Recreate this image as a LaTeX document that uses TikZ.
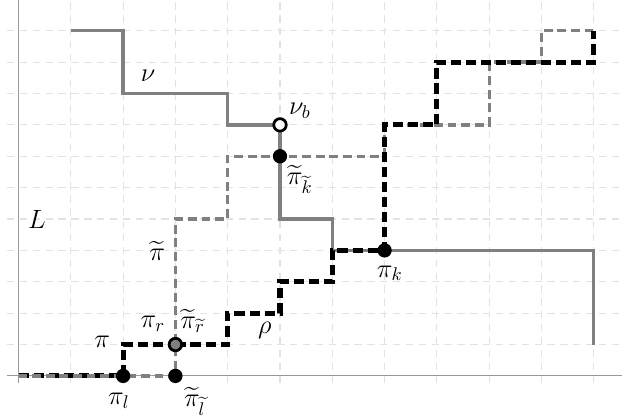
\documentclass[tikz,border=0pt]{standalone}
\usepackage{amsmath}
\begin{document}
\begin{tikzpicture}[x=1cm,y=0.6cm,
  gridline/.style={draw=black!11, dash pattern=on 4pt off 3pt, line width=0.6pt},
  axisline/.style={draw=black!40, line width=0.6pt},
  nupath/.style={draw=black!50, line width=1.8pt},
  pipath/.style={draw=black, line width=2.8pt, dash pattern=on 5.5pt off 2.7pt},
  tpipath/.style={draw=black!50, line width=1.8pt, dash pattern=on 4.8pt off 2.6pt},
  dot/.style={circle, fill=black, inner sep=0pt, minimum size=7.8pt},
  odot/.style={circle, draw=black, fill=white, line width=1.5pt, inner sep=0pt, minimum size=6.8pt},
  gdot/.style={circle, draw=black, fill=black!50, line width=1.5pt, inner sep=0pt, minimum size=6.8pt},
  lab/.style={font=\fontsize{14.5}{16}\selectfont, inner sep=0pt}]
\useasboundingbox (-0.354,-1.307) rectangle (11.54,11.98);
\draw[gridline, xstep=1cm, ystep=0.6cm] (-0.22,-0.22) grid (11.6,12);
\coordinate (xa) at (-0.22,0);
\coordinate (xb) at (11.6,0);
\coordinate (ya) at (0,-0.22);
\coordinate (yb) at (0,12);
\draw[axisline] (xa) -- (xb);
\draw[axisline] (ya) -- (yb);
% nu path
\coordinate (n0) at (1,11);
\coordinate (n1) at (11,1);
\draw[nupath] (n0) -- (2,11) -- (2,9) -- (4,9) -- (4,8) -- (5,8) -- (5,5) -- (6,5) -- (6,4) -- (11,4) -- (n1);
% key points
\coordinate (o) at (0,0);
\coordinate (pl) at (2,0);
\coordinate (pr) at (3,1);
\coordinate (tpl) at (3,0);
\coordinate (tpk) at (5,7);
\coordinate (nb) at (5,8);
\coordinate (pk) at (7,4);
\coordinate (e) at (11,11);
% pi first part
\draw[pipath] (o) -- (pl) -- (2,1) -- (pr);
% tilde pi
\draw[tpipath] (o) -- (tpl) -- (3,5) -- (4,5) -- (4,7) -- (7,7) -- (7,8) -- (9,8) -- (9,10) -- (10,10) -- (10,11) -- (e);
% rho
\draw[pipath] (pr) -- (4,1) -- (4,2) -- (5,2) -- (5,3) -- (6,3) -- (6,4) -- (pk) -- (7,8) -- (8,8) -- (8,10) -- (11,10) -- (e);
% dots
\node[dot] (Dpl) at (pl) {};
\node[dot] (Dtpl) at (tpl) {};
\node[gdot] (Dpr) at (pr) {};
\node[dot] (Dtpk) at (tpk) {};
\node[odot] (Dnb) at (nb) {};
\node[dot] (Dpk) at (pk) {};
% labels
\node[lab] (lnu) at (2.48,9.55) {$\nu$};
\node[lab] (lnb) at (5.38,8.46) {$\nu_b$};
\node[lab] (ltpk) at (5.38,6.25) {$\widetilde{\pi}_{\widetilde{k}}$};
\node[lab] (lL) at (0.35,5.0) {$L$};
\node[lab] (ltp) at (2.65,3.97) {$\widetilde{\pi}$};
\node[lab] (lpi) at (1.6,1.09) {$\pi$};
\node[lab] (lpr) at (2.57,1.67) {$\pi_r$};
\node[lab] (ltpr) at (3.33,1.76) {$\widetilde{\pi}_{\widetilde{r}}$};
\node[lab] (lrho) at (4.71,1.44) {$\rho$};
\node[lab] (lpl) at (1.92,-0.8) {$\pi_l$};
\node[lab] (ltpl) at (3.37,-0.8) {$\widetilde{\pi}_{\widetilde{l}}$};
\node[lab] (lpk) at (7.1,3.27) {$\pi_k$};
\end{tikzpicture}
\end{document}
